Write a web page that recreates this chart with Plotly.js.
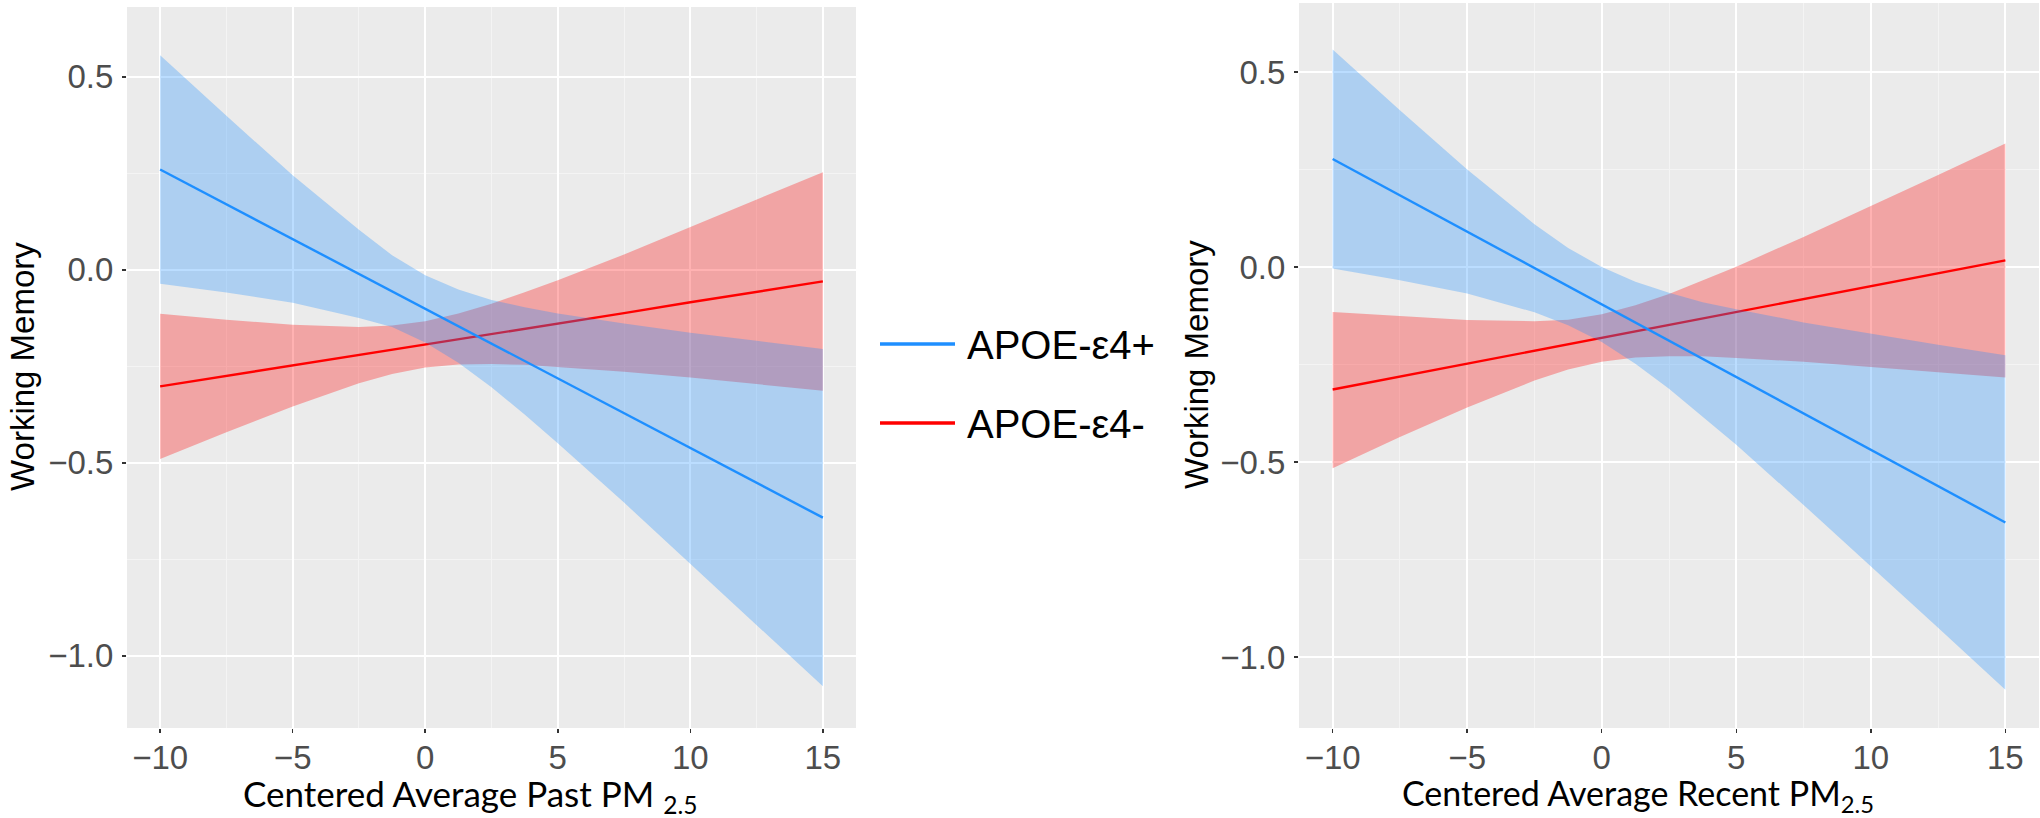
<!DOCTYPE html>
<html>
<head>
<meta charset="utf-8">
<script src="https://cdn.plot.ly/plotly-3.0.1.min.js"></script>
<style>
  html, body { margin: 0; padding: 0; background: #ffffff; }
  #chart { width: 2040px; height: 818px; }
</style>
</head>
<body>
<div id="chart"></div>
<script>
// ---- Data ----
const xValues = [-10, -7.5, -5, -2.5, -1.25, 0, 1.25, 2.5, 3.75, 5, 7.5, 10, 12.5, 15];
const xTicks = [-10, -5, 0, 5, 10, 15];
const yTicks = [-1.0, -0.5, 0.0, 0.5];
const seriesNames = ["APOE-\u03b54+", "APOE-\u03b54-"];

// Left panel: Centered Average Past PM2.5
const pastPlusFit   = [0.260, 0.170, 0.080, -0.010, -0.055, -0.101, -0.146, -0.191, -0.236, -0.281, -0.371, -0.462, -0.552, -0.642];
const pastPlusUpper = [0.556, 0.399, 0.245, 0.104, 0.038, -0.014, -0.051, -0.078, -0.097, -0.113, -0.139, -0.163, -0.184, -0.205];
const pastPlusLower = [-0.036, -0.059, -0.085, -0.125, -0.148, -0.188, -0.241, -0.304, -0.375, -0.449, -0.603, -0.761, -0.920, -1.079];
const pastMinusFit   = [-0.302, -0.275, -0.248, -0.221, -0.207, -0.193, -0.179, -0.166, -0.152, -0.139, -0.112, -0.084, -0.057, -0.030];
const pastMinusUpper = [-0.114, -0.129, -0.142, -0.148, -0.144, -0.133, -0.113, -0.088, -0.058, -0.027, 0.040, 0.111, 0.182, 0.253];
const pastMinusLower = [-0.490, -0.421, -0.354, -0.294, -0.270, -0.253, -0.245, -0.244, -0.246, -0.251, -0.264, -0.279, -0.296, -0.313];

// Right panel: Centered Average Recent PM2.5
const recentPlusFit   = [0.277, 0.184, 0.091, -0.003, -0.050, -0.096, -0.143, -0.189, -0.236, -0.282, -0.376, -0.469, -0.562, -0.655];
const recentPlusUpper = [0.558, 0.402, 0.250, 0.110, 0.049, 0.000, -0.038, -0.066, -0.090, -0.108, -0.142, -0.171, -0.199, -0.226];
const recentPlusLower = [-0.004, -0.034, -0.068, -0.116, -0.149, -0.192, -0.248, -0.312, -0.383, -0.456, -0.610, -0.767, -0.925, -1.084];
const recentMinusFit   = [-0.314, -0.281, -0.248, -0.215, -0.199, -0.182, -0.165, -0.149, -0.132, -0.116, -0.083, -0.050, -0.017, 0.017];
const recentMinusUpper = [-0.115, -0.126, -0.136, -0.139, -0.135, -0.121, -0.098, -0.069, -0.035, 0.001, 0.077, 0.156, 0.236, 0.317];
const recentMinusLower = [-0.516, -0.436, -0.360, -0.291, -0.263, -0.243, -0.232, -0.229, -0.229, -0.233, -0.243, -0.256, -0.270, -0.283];

// ---- Styles ----
const BLUE = "#1E8FFF";
const RED = "#FF0000";
const BLUE_FILL = "rgba(30,144,255,0.3)";
const RED_FILL = "rgba(255,0,0,0.3)";

function band(xs, upper, lower, fill, xa, ya) {
  return {
    x: xs.concat(xs.slice().reverse()),
    y: upper.concat(lower.slice().reverse()),
    type: "scatter", mode: "lines", fill: "toself", fillcolor: fill,
    line: { width: 0, color: "rgba(0,0,0,0)" },
    hoverinfo: "skip", showlegend: false, xaxis: xa, yaxis: ya
  };
}
function fitLine(xs, ys, color, name, xa, ya) {
  return {
    x: xs, y: ys, type: "scatter", mode: "lines", name: name,
    line: { color: color, width: 2.4 }, showlegend: false, xaxis: xa, yaxis: ya
  };
}

const traces = [
  band(xValues, pastMinusUpper, pastMinusLower, RED_FILL, "x", "y"),
  fitLine(xValues, pastMinusFit, RED, seriesNames[1], "x", "y"),
  band(xValues, pastPlusUpper, pastPlusLower, BLUE_FILL, "x", "y"),
  fitLine(xValues, pastPlusFit, BLUE, seriesNames[0], "x", "y"),
  band(xValues, recentMinusUpper, recentMinusLower, RED_FILL, "x2", "y2"),
  fitLine(xValues, recentMinusFit, RED, seriesNames[1], "x2", "y2"),
  band(xValues, recentPlusUpper, recentPlusLower, BLUE_FILL, "x2", "y2"),
  fitLine(xValues, recentPlusFit, BLUE, seriesNames[0], "x2", "y2")
];

const tickFont = { family: "Liberation Sans, Arial, sans-serif", size: 33, color: "#4D4D4D" };

function xAxis(domain, anchor) {
  return {
    domain: domain, anchor: anchor, range: [-11.25, 16.25],
    tickvals: xTicks, ticktext: xTicks.map(v => v < 0 ? "\u2212" + Math.abs(v) : String(v)),
    ticks: "outside", ticklen: 4, tickwidth: 1.5, tickcolor: "#333333",
    tickfont: tickFont, showgrid: true, gridcolor: "#FFFFFF", gridwidth: 2,
    minor: { dtick: 2.5, tick0: 0, showgrid: true, gridcolor: "#F4F4F4", gridwidth: 1, ticks: "" },
    zeroline: false, showline: false, fixedrange: true, ticklabelstandoff: -4
  };
}
function yAxis(domain, anchor, range) {
  return {
    domain: domain, anchor: anchor, range: range,
    tickvals: yTicks, ticktext: yTicks.map(v => v < 0 ? "\u2212" + Math.abs(v).toFixed(1) : v.toFixed(1)),
    ticks: "outside", ticklen: 4, tickwidth: 1.5, tickcolor: "#333333",
    tickfont: tickFont, showgrid: true, gridcolor: "#FFFFFF", gridwidth: 2,
    minor: { dtick: 0.25, tick0: 0, showgrid: true, gridcolor: "#F4F4F4", gridwidth: 1, ticks: "" },
    zeroline: false, showline: false, fixedrange: true, ticklabelstandoff: 2
  };
}

const W = 2040, H = 818;
const px = v => v / W;
const py = v => 1 - v / H;

const titleFont = { family: "Lato, Open Sans, sans-serif", size: 35, color: "#000000" };
const yTitleFont = { family: "Liberation Sans, Arial, sans-serif", size: 33, color: "#000000" };
const legendFont = { family: "Liberation Sans, Arial, sans-serif", size: 40, color: "#000000" };

const layout = {
  width: W, height: H,
  margin: { l: 0, r: 0, t: 0, b: 0 },
  paper_bgcolor: "#FFFFFF",
  plot_bgcolor: "#EBEBEB",
  showlegend: false,
  xaxis: xAxis([px(127), px(856)], "y"),
  yaxis: yAxis([py(728), py(7)], "x", [-1.187, 0.681]),
  xaxis2: xAxis([px(1299), px(2039)], "y2"),
  yaxis2: yAxis([py(728), py(3)], "x2", [-1.182, 0.677]),
  shapes: [
    { type: "line", xref: "paper", yref: "paper", x0: px(880), x1: px(955), y0: py(344), y1: py(344), line: { color: BLUE, width: 3.5 } },
    { type: "line", xref: "paper", yref: "paper", x0: px(880), x1: px(955), y0: py(423), y1: py(423), line: { color: RED, width: 3.5 } }
  ],
  annotations: [
    { text: seriesNames[0], xref: "paper", yref: "paper", x: px(965), y: py(345), xanchor: "left", yanchor: "middle", showarrow: false, font: legendFont },
    { text: seriesNames[1], xref: "paper", yref: "paper", x: px(965), y: py(424), xanchor: "left", yanchor: "middle", showarrow: false, font: legendFont },
    { text: "Working Memory", xref: "paper", yref: "paper", x: px(23), y: py(367), textangle: -90, xanchor: "center", yanchor: "middle", showarrow: false, font: yTitleFont },
    { text: "Working Memory", xref: "paper", yref: "paper", x: px(1196), y: py(365), textangle: -90, xanchor: "center", yanchor: "middle", showarrow: false, font: yTitleFont },
    { text: "Centered Average Past PM <sub>2.5</sub>", xref: "paper", yref: "paper", x: px(470), y: py(795), xanchor: "center", yanchor: "middle", showarrow: false, font: titleFont },
    { text: "Centered Average Recent PM<sub>2.5</sub>", xref: "paper", yref: "paper", x: px(1638), y: py(795), xanchor: "center", yanchor: "middle", showarrow: false, font: Object.assign({}, titleFont, { size: 34 }) }
  ]
};

Plotly.newPlot("chart", traces, layout, { staticPlot: true, displayModeBar: false });
</script>
</body>
</html>
